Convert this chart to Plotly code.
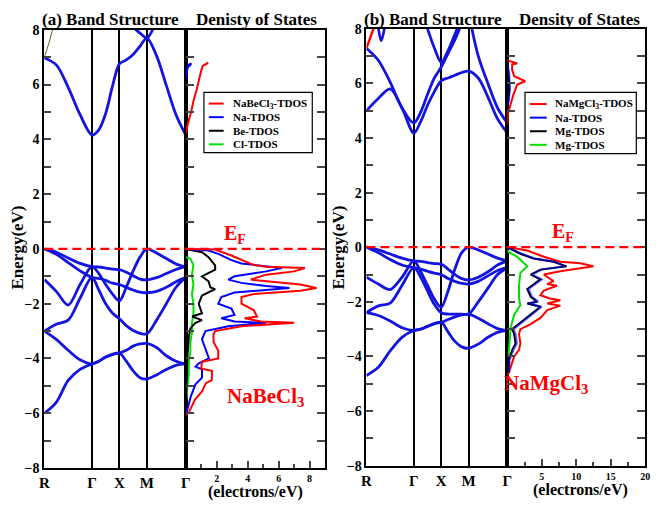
import plotly.graph_objects as go

W, H = 661, 510

def fx(px):
    return px / W

def fy(py):
    return 1 - py / H

FONT = "Liberation Serif, Times New Roman, Times, serif"

# ---------------- k-path ----------------
K_LABELS = ["R", "Γ", "X", "M", "Γ"]
K_TICKS = [0.0, 0.866, 1.366, 1.866, 2.573]
K = [0.0, 0.2165, 0.433, 0.6495, 0.866,
     0.991, 1.116, 1.241, 1.366,
     1.491, 1.616, 1.741, 1.866,
     2.0428, 2.2195, 2.3963, 2.573]

# ---------------- (a) NaBeCl3 bands ----------------
a_bands = [
    [0, -0.12, -0.33, -0.53, -0.65, -0.66, -0.7, -0.74, -0.76, -0.85, -0.98, -1.1, -1.13, -1.05, -0.9, -0.75, -0.65],
    [0, -0.2, -0.5, -0.8, -1.04, -1.08, -1.15, -1.25, -1.3, -1.4, -1.5, -1.58, -1.6, -1.55, -1.4, -1.2, -1.04],
    [-1.12, -1.55, -2.05, -1.3, -0.65, -0.9, -1.3, -1.65, -1.9, -1.4, -0.8, -0.3, 0, -0.15, -0.35, -0.55, -0.65],
    [-3.0, -2.75, -2.6, -1.8, -1.04, -1.5, -2.0, -2.35, -2.55, -2.8, -2.98, -3.08, -3.1, -2.6, -2.0, -1.4, -1.04],
    [-6.0, -5.6, -4.8, -4.4, -4.2, -4.1, -3.95, -3.85, -3.8, -3.7, -3.55, -3.47, -3.45, -3.6, -3.9, -4.1, -4.2],
    [-3.0, -3.3, -3.7, -4.05, -4.2, -4.1, -3.95, -3.85, -3.8, -4.1, -4.45, -4.7, -4.75, -4.6, -4.4, -4.25, -4.2],
    [6.97, 6.72, 5.9, 4.9, 4.16, 4.35, 4.95, 5.95, 6.76, 6.9, 7.1, 7.4, 7.7, 7.05, 5.97, 4.9, 4.16],
    [None, None, None, None, None, None, None, None, 8.8, 8.45, 8.1, 7.88, 7.7, 8.3, 9.0, None, None],
]
a_extra_k = [0.0, 0.08, 0.2]
a_extra_e = [7.0, 7.5, 8.4]

# ---------------- (b) NaMgCl3 bands ----------------
b_bands = [
    [0, -0.1, -0.25, -0.4, -0.5, -0.52, -0.56, -0.6, -0.62, -0.8, -1.0, -1.15, -1.2, -1.1, -0.9, -0.65, -0.5],
    [0, -0.2, -0.45, -0.65, -0.75, -0.8, -0.88, -0.95, -1.0, -1.15, -1.25, -1.32, -1.35, -1.25, -1.05, -0.85, -0.75],
    [-1.1, -1.35, -1.55, -1.1, -0.5, -0.9, -1.4, -1.9, -2.2, -1.6, -0.8, -0.2, 0, -0.1, -0.25, -0.4, -0.5],
    [-2.4, -2.15, -2.05, -1.4, -0.75, -1.1, -1.6, -2.1, -2.4, -2.45, -2.45, -2.45, -2.45, -2.0, -1.5, -1.0, -0.75],
    [-2.4, -2.5, -2.7, -2.95, -3.05, -3.0, -2.9, -2.8, -2.75, -2.65, -2.55, -2.48, -2.45, -2.6, -2.8, -2.98, -3.05],
    [-4.7, -4.4, -3.8, -3.3, -3.05, -3.0, -2.9, -2.8, -2.75, -3.1, -3.45, -3.65, -3.7, -3.55, -3.3, -3.12, -3.05],
    [5.0, 5.45, 5.8, 5.1, 4.18, 4.6, 5.2, 5.7, 6.1, 6.2, 6.3, 6.4, 6.45, 6.2, 5.5, 4.7, 4.18],
    [7.29, 6.85, 6.05, 5.1, 4.55, 4.95, 5.6, 6.2, 6.6, 7.1, 7.6, 8.2, 8.8, None, None, None, None],
    [None, None, None, None, None, None, 8.0, 7.3, 6.77, 7.2, 7.8, 8.4, None, None, None, None, None],
    [None, None, None, None, None, None, None, None, None, None, None, None, 8.6, 7.0, 6.0, 5.1, 4.55],
]
b_red_k = [0.0, 0.2165]
b_red_e = [7.29, 8.5]
b_dip_k = [0.2, 0.27, 0.35]
b_dip_e = [8.3, 7.56, 8.3]

# ---------------- DOS (a) ----------------
a_tot_e = [0, -0.02, -0.24, -0.41, -0.59, -0.65, -0.68, -0.7, -0.82, -0.94, -1.12, -1.15, -1.24, -1.3, -1.43, -1.53,
           -1.65, -1.76, -2.0, -2.24, -2.47, -2.53, -2.65, -2.7, -2.82, -3.0, -3.13, -3.4, -3.72, -4.0, -4.12, -4.26,
           -4.37, -4.45, -4.79, -4.9, -5.2, -5.5, -5.97, -6.05, None,
           4.2, 4.6, 5.0, 5.4, 5.8, 6.2, 6.5, 6.68, 6.76, 6.8, 6.72]
a_tot_d = [0, 1.9, 2.95, 3.6, 4.4, 5.2, 6.6, 7.7, 7.0, 5.2, 4.2, 4.8, 6.4, 7.4, 8.45, 7.4,
           4.4, 3.6, 3.6, 4.4, 4.6, 3.8, 4.85, 7.0, 3.6, 1.9, 1.79, 1.8, 2.1, 2.1, 1.05, 1.0,
           1.0, 1.7, 1.68, 1.3, 1.05, 0.6, 0.2, 0, None,
           0, 0.15, 0.35, 0.5, 0.7, 0.85, 1.0, 1.1, 1.3, 1.45, 1.25]
a_na_e = [0, -0.06, -0.18, -0.41, -0.53, -0.6, -0.7, -0.82, -1.0, -1.12, -1.24, -1.35, -1.43, -1.59, -1.76, -2.0,
          -2.18, -2.41, -2.53, -2.65, -2.7, -2.82, -3.0, -3.3, -3.65, -4.0, -4.18, -4.3, -4.4, -4.7, -4.94, -5.4,
          -5.88, -6.0, None, 6.2, 6.5, 6.7, 6.78, 6.72, 6.6]
a_na_d = [0, 1.47, 2.1, 2.95, 3.6, 4.85, 6.2, 5.2, 3.15, 2.75, 3.6, 5.2, 6.7, 3.15, 2.3, 2.1,
          2.95, 3.15, 2.3, 3.15, 5.2, 2.75, 1.27, 1.05, 1.27, 1.5, 0.84, 0.63, 1.05, 1.05, 0.63, 0.32,
          0.1, 0, None, 0, 0.1, 0.15, 0.35, 0.3, 0.1]
a_be_e = [0, -0.12, -0.3, -0.6, -0.76, -1.0, -1.18, -1.41, -1.47, -1.7, -2.0, -2.35, -2.47, -2.6, -2.7, -2.9, -3.2,
          -4.0, -5.0, -6.0]
a_be_d = [0, 1.05, 1.47, 1.9, 1.9, 1.05, 1.47, 1.6, 1.9, 1.05, 0.84, 1.05, 0.42, 1.05, 0.63, 0.3, 0.2,
          0.1, 0.05, 0]
a_cl_e = [-0.3, -0.35, -0.59, -0.94, -1.3, -1.65, -2.0, -2.35, -2.7, -3.06, -3.41, -3.76, -4.12, -4.59, -5.06, -5.5]
a_cl_d = [0, 0.3, 0.5, 0.4, 0.5, 0.4, 0.5, 0.5, 0.4, 0.4, 0.3, 0.3, 0.2, 0.2, 0.1, 0.05]

# ---------------- DOS (b) ----------------
b_tot_e = [0, -0.12, -0.35, -0.53, -0.59, -0.7, -0.88, -1.0, -1.24, -1.35, -1.41, -1.59, -1.76, -1.88, -1.94,
           -2.06, -2.14, -2.3, -2.59, -2.82, -3.0, -3.18, -3.53, -3.76, -4.0, -4.24, -4.59, -4.7, None,
           4.5, 4.9, 5.25, 5.6, 5.96, 6.08, 6.2, 6.26, 6.5, 6.7, 6.73, 6.8, 6.85]
b_tot_d = [0, 2.9, 5.3, 7.7, 10.6, 12.5, 7.7, 5.3, 6.7, 5.8, 7.2, 5.3, 4.8, 6.2, 7.7,
           5.8, 7.7, 5.8, 4.8, 3.4, 1.9, 1.7, 1.9, 1.7, 1.0, 0.72, 0.24, 0, None,
           0, 0.1, 0.5, 0.9, 1.44, 2.6, 1.6, 1.0, 0.7, 0.7, 1.44, 0.5, 0]
b_na_e = [0, -0.24, -0.41, -0.53, -0.7, -0.82, -1.0, -1.18, -1.53, -1.82, -2.0, -2.06, -2.18, -2.47, -2.76, -3.0,
          -3.18, -3.53, -3.76, -4.12, -4.59, None, 5.2, 5.8, 6.3, 6.8]
b_na_d = [0, 2.1, 4.0, 6.9, 8.3, 5.0, 3.6, 5.0, 3.1, 3.6, 4.5, 3.1, 5.0, 3.6, 2.1, 0.9,
          1.2, 1.4, 0.9, 0.35, 0.2, None, 0.1, 0.4, 0.3, 0]
b_mg_e = [0, -0.24, -0.41, -0.53, -0.7, -0.82, -1.0, -1.18, -1.53, -1.82, -2.0, -2.06, -2.18, -2.47, -2.76, -3.0,
          -3.18, -3.53, -3.76, -4.12, -4.59, None, 5.2, 5.8, 6.3, 6.8]
b_mg_d = [0, 1.9, 3.8, 6.7, 8.6, 4.8, 3.4, 4.8, 2.9, 3.4, 4.3, 2.9, 4.8, 3.4, 1.9, 0.72,
          1.0, 1.2, 0.72, 0.24, 0.2, None, 0.1, 0.3, 0.2, 0]
b_cl_e = [-0.1, -0.18, -0.35, -0.59, -0.7, -0.94, -1.41, -1.88, -2.12, -2.47, -2.94, -3.76, -4.0]
b_cl_d = [0, 0.24, 1.44, 2.4, 2.9, 1.9, 1.7, 1.7, 1.9, 1.0, 0.5, 0.24, 0.2]

LEG_A = ["NaBeCl<sub>3</sub>-TDOS", "Na-TDOS", "Be-TDOS", "Cl-TDOS"]
LEG_B = ["NaMgCl<sub>3</sub>-TDOS", "Na-TDOS", "Mg-TDOS", "Mg-TDOS"]
DOS_COLORS = ["#ff0000", "#0000ff", "#000000", "#00e000"]
BAND_COLOR = "#1414e0"

fig = go.Figure()

def band_traces(bands, xa, ya):
    for e in bands:
        fig.add_trace(go.Scatter(x=K, y=e, mode="lines", xaxis=xa, yaxis=ya,
                                 line=dict(color=BAND_COLOR, width=2.8, shape="spline", smoothing=0.9),
                                 showlegend=False, hoverinfo="skip"))

band_traces(a_bands, "x", "y")
fig.add_trace(go.Scatter(x=a_extra_k, y=a_extra_e, mode="lines", xaxis="x", yaxis="y",
                         line=dict(color="#6b6020", width=1, shape="spline"), showlegend=False))
band_traces(b_bands, "x3", "y3")
fig.add_trace(go.Scatter(x=b_red_k, y=b_red_e, mode="lines", xaxis="x3", yaxis="y3",
                         line=dict(color="#ff0000", width=2.4, shape="spline"), showlegend=False))
fig.add_trace(go.Scatter(x=b_dip_k, y=b_dip_e, mode="lines", xaxis="x3", yaxis="y3",
                         line=dict(color=BAND_COLOR, width=2.8, shape="spline"), showlegend=False))

dos_a = [(a_tot_e, a_tot_d), (a_na_e, a_na_d), (a_be_e, a_be_d), (a_cl_e, a_cl_d)]
dos_b = [(b_tot_e, b_tot_d), (b_na_e, b_na_d), (b_mg_e, b_mg_d), (b_cl_e, b_cl_d)]
for idx in [3, 2, 1, 0]:
    e, d = dos_a[idx]
    fig.add_trace(go.Scatter(x=d, y=e, mode="lines", xaxis="x2", yaxis="y2",
                             line=dict(color=DOS_COLORS[idx], width=2), showlegend=False))
for idx in [0, 3, 2, 1]:
    e, d = dos_b[idx]
    fig.add_trace(go.Scatter(x=d, y=e, mode="lines", xaxis="x4", yaxis="y4", opacity=0.6 if idx == 1 else 1,
                             line=dict(color=DOS_COLORS[idx], width=2), showlegend=False))

# ---------------- axes ----------------
YA = [fy(475), fy(23.5)]
YB = [fy(472.5), fy(22.5)]
tickfont = dict(family=FONT, size=14, color="black", weight="bold")
common_line = dict(showline=True, linecolor="black", linewidth=2, zeroline=False)

band_x = dict(range=[0, 2.573], tickvals=K_TICKS, ticktext=K_LABELS, ticks="", showgrid=True,
              gridcolor="black", gridwidth=2, tickfont=dict(family=FONT, size=15, color="black", weight="bold"),
              mirror=True, **common_line)
band_y = dict(range=[-8, 8], tickvals=[-8, -6, -4, -2, 0, 2, 4, 6, 8], ticks="inside", ticklen=7, tickwidth=2,
              minor=dict(tickvals=[-7, -5, -3, -1, 1, 3, 5, 7], ticks="inside", ticklen=7, tickwidth=2),
              showgrid=False, tickfont=tickfont, mirror=True, **common_line)
dos_y = dict(range=[-8, 8], dtick=1, ticks="inside", ticklen=8, tickwidth=2, showticklabels=False,
             showgrid=False, mirror="ticks", **common_line)
dos_tickfont = dict(family=FONT, size=10, color="black", weight="bold")

fig.update_layout(
    width=W, height=H, margin=dict(l=0, r=0, t=0, b=0),
    paper_bgcolor="white", plot_bgcolor="white", showlegend=False,
    font=dict(family=FONT, color="black"),
    xaxis=dict(domain=[fx(40), fx(183.5)], anchor="y", **band_x),
    yaxis=dict(domain=YA, anchor="x", **band_y),
    xaxis2=dict(domain=[fx(183.5), fx(325)], anchor="y2", range=[0, 9], tickvals=[2, 4, 6, 8],
                ticks="inside", ticklen=7, tickwidth=2,
                minor=dict(tickvals=[1, 3, 5, 7], ticks="inside", ticklen=4, tickwidth=2),
                tickfont=dos_tickfont, showgrid=False, ticklabeloverflow="allow",
                mirror=True, **common_line),
    yaxis2=dict(domain=YA, anchor="x2", **dos_y),
    xaxis3=dict(domain=[fx(367), fx(510)], anchor="y3", **band_x),
    yaxis3=dict(domain=YB, anchor="x3", **band_y),
    xaxis4=dict(domain=[fx(510), fx(650)], anchor="y4", range=[0, 20], tickvals=[5, 10, 15, 20],
                ticks="inside", ticklen=7, tickwidth=2,
                minor=dict(tickvals=[2.5, 7.5, 12.5, 17.5], ticks="inside", ticklen=4, tickwidth=2),
                tickfont=dos_tickfont, showgrid=False, ticklabeloverflow="allow",
                mirror=True, **common_line),
    yaxis4=dict(domain=YB, anchor="x4", **dos_y),
)

for xr, yr in [("x", "y"), ("x2", "y2"), ("x3", "y3"), ("x4", "y4")]:
    fig.add_shape(type="line", xref=f"{xr} domain", yref=yr, x0=0, x1=1, y0=0, y1=0,
                  line=dict(color="#ff0000", width=2.2, dash="9px,5px"))

def ann(text, px, py, size, color="black", xanchor="left", yanchor="middle", angle=0):
    fig.add_annotation(text=text, x=fx(px), y=fy(py), xref="paper", yref="paper", showarrow=False,
                       xanchor=xanchor, yanchor=yanchor, textangle=angle, borderpad=0,
                       font=dict(family=FONT, size=size, color=color, weight="bold"))

ann("(a) Band Structure", 37, 13, 17)
ann("Denisty of States", 193, 13, 17)
ann("(b) Band Structure", 364, 13, 17)
ann("Density of States", 521, 13, 17)
ann("Energy(eV)", 13, 248, 17, xanchor="center", angle=-90)
ann("Energy(eV)", 339, 248, 17, xanchor="center", angle=-90)
ann("(electrons/eV)", 254, 500, 16, xanchor="center")
ann("(electrons/eV)", 584, 498, 16, xanchor="center")
ann("E<sub>F</sub>", 221, 234, 20, color="#ff0000")
ann("E<sub>F</sub>", 554, 232, 20, color="#ff0000")
ann("NaBeCl<sub>3</sub>", 265, 402, 21, color="#ff0000", xanchor="center")
ann("NaMgCl<sub>3</sub>", 549, 388, 21, color="#ff0000", xanchor="center")

def legend(x0, y0, x1, y1, names, sx0, sx1, tx, rows):
    fig.add_shape(type="rect", xref="paper", yref="paper", x0=fx(x0), x1=fx(x1), y0=fy(y1), y1=fy(y0),
                  line=dict(color="black", width=1.2), fillcolor="white", layer="above")
    for name, c, ry in zip(names, DOS_COLORS, rows):
        fig.add_shape(type="line", xref="paper", yref="paper", x0=fx(sx0), x1=fx(sx1), y0=fy(ry), y1=fy(ry),
                      line=dict(color=c, width=2), layer="above")
        ann(name, tx, ry, 11)

legend(202, 88, 312, 150, LEG_A, 207, 222, 230, [99.5, 113.5, 127.5, 141.5])
legend(528, 88, 641, 151, LEG_B, 533, 550, 557, [100, 114, 128, 142])

# remove the default 8px page margin so the figure sits at the window origin
fig.write_html("out.html",
               config={"displayModeBar": False, "staticPlot": True},
               post_script="document.body.style.margin='0';document.body.style.overflow='hidden';")
